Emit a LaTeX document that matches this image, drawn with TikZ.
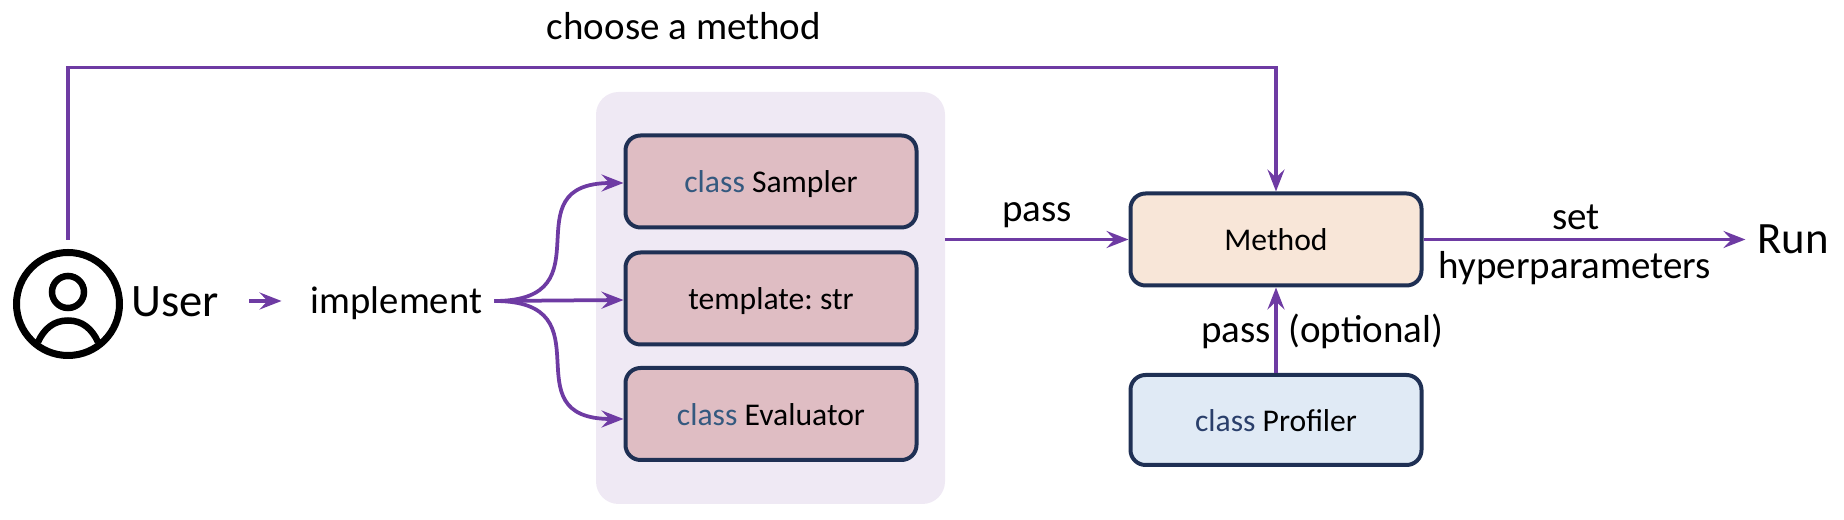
\documentclass[tikz,border=0pt]{standalone}
\usepackage{fontspec}
\setmainfont{Carlito}
\usetikzlibrary{positioning}
\usetikzlibrary{calc}
\usetikzlibrary{arrows.meta}
\definecolor{flow purple}{HTML}{6E3BA3}
\definecolor{box border}{HTML}{1F3054}
\definecolor{keyword blue}{HTML}{34597F}
\definecolor{keyword navy}{HTML}{2A3F6B}
\tikzset{
    % Purple connectors with a swept back head
    >={Stealth[length=4.4mm, width=3.4mm, inset=1.6mm]},
    flow/.style={draw=flow purple, line width=.75mm},
%
    % The rounded class boxes
    class box/.style={
        draw=box border, line width=.8mm, rounded corners=3mm,
        minimum width=58.2mm, minimum height=18.4mm, inner sep=0,
        text height=5.9mm, text depth=1.3mm,
        font=\fontsize{18}{22}\selectfont},
    sampler fill/.style={fill={rgb,255:red,223;green,189;blue,195}},
    method fill/.style={fill={rgb,255:red,248;green,230;blue,216}},
    profiler fill/.style={fill={rgb,255:red,224;green,234;blue,245}},
%
    % Free text beside the connectors, placed by its baseline
    flow label/.style={inner sep=0, anchor=base, font=\fontsize{22.2}{27}\selectfont},
    big label/.style={inner sep=0, font=\fontsize{26.5}{31}\selectfont}}
\newcommand{\keyword}[1]{\textcolor{keyword blue}{#1}}

\begin{document}
\frenchspacing
\begin{tikzpicture}
\useasboundingbox (0,0) rectangle (368.8mm,104mm);

% Pale panel behind the three inputs
\node[fill={rgb,255:red,239;green,233;blue,244}, rounded corners=4.5mm,
    minimum width=69.8mm, minimum height=82.4mm, inner sep=0]
    (panel) at (154.1mm,44.4mm) {};

\node[class box, sampler fill] (sampler) at (154.2mm,67.7mm)
    {\keyword{class} Sampler};
\node[class box, sampler fill] (template) at (154.2mm,44.3mm)
    {template: str};
\node[class box, sampler fill] (evaluator) at (154.2mm,21.2mm)
    {\keyword{class} Evaluator};

% Method, and the profiler handed to it
\node[class box, method fill] (method) at (255.2mm,56.1mm) {Method};
\node[class box, profiler fill, minimum height=18mm] (profiler) at (255.2mm,20mm)
    {\textcolor{keyword navy}{class} Profiler};

% User icon
\node[draw, circle, line width=1.4mm, minimum size=20.6mm, inner sep=0]
    (user icon) at (13.6mm,43.2mm) {};
\node[draw, circle, line width=1.3mm, minimum size=6.4mm, inner sep=0]
    (user head) at ($(user icon)+(0,2.4mm)$) {};
\draw[line width=1.3mm] ($(user icon)+(-6mm,-7.6mm)$) to[out=65, in=180]
    ($(user icon)+(0,-3.3mm)$) to[out=0, in=115] ($(user icon)+(6mm,-7.6mm)$);

\node[big label, right=1.6mm of user icon, yshift=.5mm] (user label) {User};
\node[inner sep=0, inner xsep=2.4mm, text height=6.5mm, text depth=1.6mm,
    font=\fontsize{22}{26}\selectfont]
    (implement) at (79.3mm,43.8mm) {implement};
\node[big label, font=\fontsize{25.5}{30}\selectfont] (run) at (358.6mm,56.1mm) {Run};

\draw[flow, ->, shorten <=6mm, shorten >=3.4mm]
    (user label.east |- implement.west) -- (implement.west);

\draw[flow, ->] (implement.east) to[out=0, in=180, looseness=1.7]
    ($(sampler.west)+(0,-.3mm)$);
\draw[flow, ->] (implement.east) -- ($(template.west)+(0,-.3mm)$);
\draw[flow, ->] (implement.east) to[out=0, in=180, looseness=1.7]
    ($(evaluator.west)+(0,-1mm)$);

% Line over the top, from the user down into the method
\coordinate (user top) at (13.6mm,56mm);
\coordinate (rail start) at (13.6mm,90.5mm);
\coordinate (rail end) at (method.north |- rail start);
\draw[flow, ->] (user top) -- (rail start) -- (rail end) -- (method.north);
\node[flow label] (choose) at (136.8mm,96.1mm) {choose a method};

\coordinate (panel out) at (panel.east |- method.west);
\draw[flow, ->] (panel out) -- (method.west);
\node[flow label] (pass top) at (207.4mm,59.7mm) {pass};

\draw[flow, ->] (profiler.north) -- (method.south);
\node[flow label] (pass lower) at (247.2mm,35.4mm) {pass};
\node[flow label] (optional) at (273.2mm,35.4mm) {(optional)};

\draw[flow, ->, shorten >=2.3mm] (method.east) -- (run.west);
\node[flow label] (set) at (315.2mm,58.1mm) {set};
\node[flow label] (hyper) at (315mm,48.2mm) {hyperparameters};

\end{tikzpicture}
\end{document}
